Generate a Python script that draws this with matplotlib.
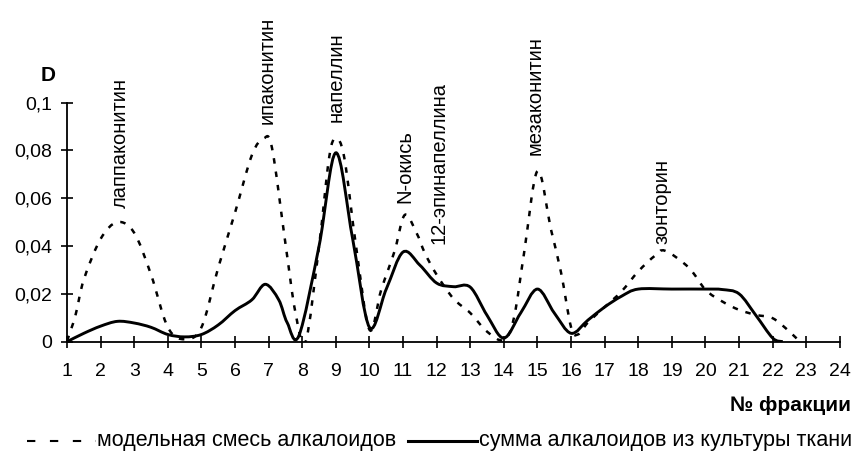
import matplotlib.pyplot as plt
import numpy as np
from matplotlib.path import Path
from matplotlib.patches import PathPatch
from matplotlib.lines import Line2D

plt.rcParams['font.family'] = ['Liberation Sans', 'DejaVu Sans']

# сумма алкалоидов из культуры ткани (solid)
solid_x = [1, 1.5, 2, 2.5, 3, 3.5, 4, 4.5, 5, 5.5, 6, 6.5, 6.9, 7.3, 7.55, 7.9,
           8.5, 9, 9.5, 10, 10.5, 11, 11.5, 12, 12.5, 13, 13.5, 14, 14.5, 15, 15.5,
           16, 16.5, 17, 17.5, 18, 19, 20, 20.5, 21, 21.5, 22, 22.3]
solid_y = [0, 0.0035, 0.0065, 0.0085, 0.0078, 0.006, 0.003, 0.002, 0.003, 0.007,
           0.013, 0.0175, 0.024, 0.0175, 0.008, 0.0025,
           0.04, 0.079, 0.043, 0.006, 0.022, 0.0375, 0.032, 0.0245, 0.023, 0.0228,
           0.011, 0.0015, 0.012, 0.022, 0.012,
           0.0035, 0.009, 0.0145, 0.019, 0.022, 0.022, 0.022, 0.0218, 0.02, 0.011,
           0.0015, 0]

# модельная смесь алкалоидов (dashed)
model_x = [1, 1.25, 1.5, 2, 2.5, 3, 3.5, 4, 4.5, 5, 5.5, 6, 6.5, 6.85, 7.1, 7.5,
           7.8, 8.1, 8.5, 8.8, 9, 9.25, 9.6, 10, 10.35, 10.75, 11.05, 11.4, 11.65,
           12, 12.5, 13, 13.5, 14, 14.3, 14.6, 15, 15.4, 15.7, 16, 16.2, 16.5, 17,
           17.5, 18, 18.5, 18.8, 19.5, 20, 20.5, 21, 21.5, 22, 22.5, 22.8]
model_y = [0.0003, 0.011, 0.026, 0.043, 0.05, 0.0455, 0.028, 0.006, 0.001, 0.006,
           0.031, 0.054, 0.078, 0.085, 0.081, 0.041,
           0.012, 0.0, 0.04, 0.077, 0.085, 0.077, 0.04, 0.005, 0.0217, 0.038, 0.053,
           0.0455, 0.037,
           0.028, 0.018, 0.012, 0.0042, 0.0007, 0.01, 0.037, 0.0714, 0.047, 0.029,
           0.006, 0.003, 0.008, 0.0145,
           0.021, 0.0294, 0.036, 0.038, 0.031, 0.0217, 0.0168, 0.0133, 0.0112,
           0.0098, 0.0042, 0]

peak_names = ['лаппаконитин', 'ипаконитин', 'напеллин', 'N-окись',
              '12-эпинапеллина', 'мезаконитин', 'зонторин']
peak_x = [2.6, 6.95, 9.0, 11.05, 12.07, 14.93, 18.7]
peak_y = [0.056, 0.091, 0.092, 0.058, 0.041, 0.078, 0.041]


def smooth_path(xs, ys):
    # Excel-like smoothed line: Catmull-Rom segments as cubic Bezier
    p = np.column_stack([xs, ys])
    verts = [p[0]]
    codes = [Path.MOVETO]
    n = len(p)
    for i in range(n - 1):
        p0 = p[i - 1] if i > 0 else p[i]
        p1 = p[i]
        p2 = p[i + 1]
        p3 = p[i + 2] if i + 2 < n else p[i + 1]
        c1 = p1 + (p2 - p0) / 6
        c2 = p2 - (p3 - p1) / 6
        verts += [c1, c2, p2]
        codes += [Path.CURVE4] * 3
    return Path(verts, codes)


fig = plt.figure(figsize=(8.54, 4.58), dpi=100)
ax = fig.add_axes([0.0785, 0.254, 0.905, 0.522])

ax.add_patch(PathPatch(smooth_path(model_x, model_y), fill=False, color='black',
                       lw=1.8, linestyle=(0, (2.2, 3.2))))
ax.add_patch(PathPatch(smooth_path(solid_x, solid_y), fill=False, color='black',
                       lw=2.1))

ax.set_xlim(1, 24)
ax.set_ylim(0, 0.1)
ax.set_xticks(range(1, 25))
ax.set_yticks([0, 0.02, 0.04, 0.06, 0.08, 0.1])
ax.set_yticklabels(['0', '0,02', '0,04', '0,06', '0,08', '0,1'])
ax.spines['top'].set_visible(False)
ax.spines['right'].set_visible(False)
ax.spines['left'].set_linewidth(1.3)
ax.spines['bottom'].set_linewidth(1.3)
ax.tick_params(axis='x', direction='inout', length=8, width=1.2, pad=11, labelsize=14)
ax.tick_params(axis='y', direction='inout', length=9, width=1.2, pad=6, labelsize=14)

for name, x, y in zip(peak_names, peak_x, peak_y):
    ax.text(x, y, name, rotation=90, ha='center', va='bottom', fontsize=14.5,
            clip_on=False)

fig.text(0.056, 0.836, 'D', fontsize=15, fontweight='bold', ha='center', va='center')
fig.text(0.996, 0.114, '№ фракции', fontsize=15, fontweight='bold', ha='right',
         va='center')

# legend
ly = 0.038
fig.add_artist(Line2D([0.032, 0.112], [ly, ly], color='black', lw=1.5,
                      linestyle=(0, (4, 7))))
fig.text(0.114, ly, 'модельная смесь алкалоидов', fontsize=15.5, ha='left',
         va='center')
fig.add_artist(Line2D([0.478, 0.559], [ly, ly], color='black', lw=2.2))
fig.text(0.561, ly, 'сумма алкалоидов из культуры ткани', fontsize=15.5, ha='left',
         va='center')

fig.savefig('out.png', dpi=100)
